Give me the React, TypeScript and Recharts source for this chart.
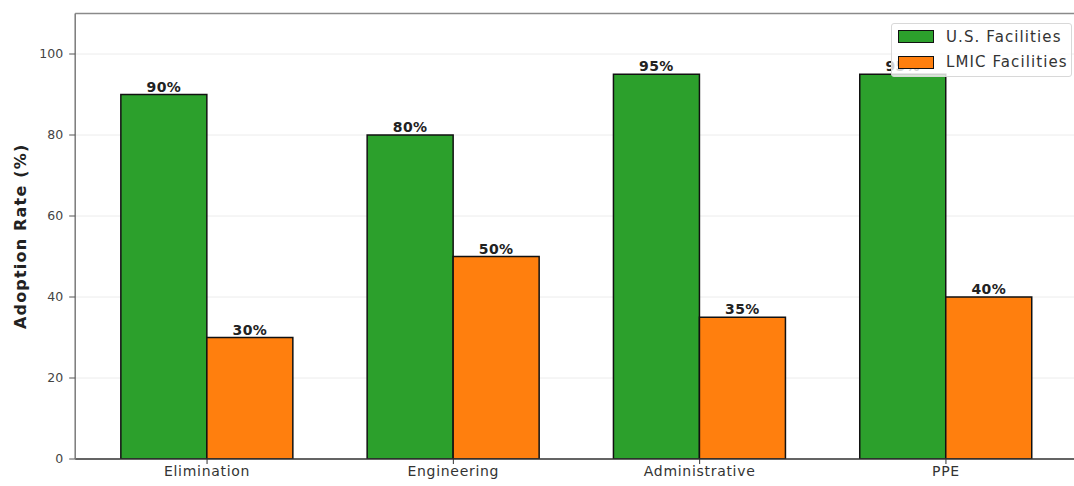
import React from 'react';
import {
  BarChart,
  Bar,
  XAxis,
  YAxis,
  CartesianGrid,
  Legend,
  LabelList,
  ReferenceLine,
} from 'recharts';

const categories = ['Elimination', 'Engineering', 'Administrative', 'PPE'];
const usValues = [90, 80, 95, 95];
const lmicValues = [30, 50, 35, 40];
const yTicks = [0, 20, 40, 60, 80, 100];

const US_COLOR = '#2ca02c';
const LMIC_COLOR = '#ff7f0e';
const FONT = '"DejaVu Sans", Verdana, sans-serif';

const data = categories.map((name, i) => ({
  name,
  us: usValues[i],
  lmic: lmicValues[i],
}));

const ValueLabel = (props: any) => {
  const { x, y, width, value } = props;
  return (
    <text
      x={Number(x) + Number(width) / 2}
      y={Number(y) - 3}
      textAnchor="middle"
      fontSize={14}
      fontWeight="bold"
      fill="#222"
      fontFamily={FONT}
      letterSpacing={0.4}
    >
      {`${value}%`}
    </text>
  );
};

const YTitle = (props: any) => {
  const vb = props.viewBox || {};
  const cy = Number(vb.y) + Number(vb.height) / 2;
  return (
    <text
      x={26}
      y={cy}
      transform={`rotate(-90, 26, ${cy})`}
      textAnchor="middle"
      fontSize={16}
      fontWeight="bold"
      fill="#222"
      fontFamily={FONT}
      letterSpacing={1.2}
    >
      Adoption Rate (%)
    </text>
  );
};

const legendItems = [
  { label: 'U.S. Facilities', color: US_COLOR },
  { label: 'LMIC Facilities', color: LMIC_COLOR },
];

const LegendBox = () => (
  <div
    style={{
      boxSizing: 'border-box',
      width: 181,
      height: 54,
      border: '1px solid #d8d8d8',
      borderRadius: 3,
      background: 'rgba(255,255,255,0.8)',
      padding: '0 0 0 6px',
      fontFamily: FONT,
      fontSize: 15,
      letterSpacing: 1.1,
      color: '#333',
    }}
  >
    {legendItems.map((it) => (
      <div
        key={it.label}
        style={{ display: 'flex', alignItems: 'center', height: 25.5 }}
      >
        <span
          style={{
            display: 'inline-block',
            boxSizing: 'border-box',
            width: 36,
            height: 13,
            background: it.color,
            border: '1.5px solid #111',
            marginRight: 12,
          }}
        />
        <span>{it.label}</span>
      </div>
    ))}
  </div>
);

export default function App() {
  return (
    <div
      style={{
        position: 'absolute',
        left: 0,
        top: 0,
        width: 1074,
        height: 486,
        overflow: 'hidden',
        background: '#fff',
      }}
    >
      <BarChart
        width={1090}
        height={486}
        data={data}
        margin={{ top: 13.5, right: 12.2, bottom: 0, left: 0 }}
        barCategoryGap="15%"
        barGap={0}
        style={{ fontFamily: FONT }}
      >
        <CartesianGrid vertical={false} stroke="#ececec" strokeWidth={1} />
        <XAxis
          dataKey="name"
          type="category"
          height={27}
          padding={{ left: 8.7, right: 8.7 }}
          axisLine={{ stroke: '#333', strokeWidth: 1.5 }}
          tickLine={{ stroke: '#333' }}
          tickSize={5}
          tickMargin={2}
          tick={{ fill: '#333', fontSize: 14, fontFamily: FONT, letterSpacing: 0.7 }}
        />
        <YAxis
          type="number"
          domain={[0, 110]}
          ticks={yTicks}
          width={75.2}
          allowDataOverflow
          axisLine={{ stroke: '#7a7a7a', strokeWidth: 1.5 }}
          tickLine={{ stroke: '#555' }}
          tickSize={6}
          tickMargin={6}
          tick={{ fill: '#444', fontSize: 12.5, fontFamily: FONT }}
          label={<YTitle />}
        />
        <ReferenceLine y={110} stroke="#8a8a8a" strokeWidth={1.5} />
        <Legend
          layout="vertical"
          align="center"
          verticalAlign="middle"
          content={<LegendBox />}
          wrapperStyle={{ position: 'absolute', left: 891, top: 23, width: 181, height: 54 }}
        />
        <Bar
          dataKey="us"
          name="U.S. Facilities"
          fill={US_COLOR}
          stroke="#111"
          strokeWidth={1.5}
          isAnimationActive={false}
        >
          <LabelList dataKey="us" content={<ValueLabel />} />
        </Bar>
        <Bar
          dataKey="lmic"
          name="LMIC Facilities"
          fill={LMIC_COLOR}
          stroke="#111"
          strokeWidth={1.5}
          isAnimationActive={false}
        >
          <LabelList dataKey="lmic" content={<ValueLabel />} />
        </Bar>
      </BarChart>
    </div>
  );
}
